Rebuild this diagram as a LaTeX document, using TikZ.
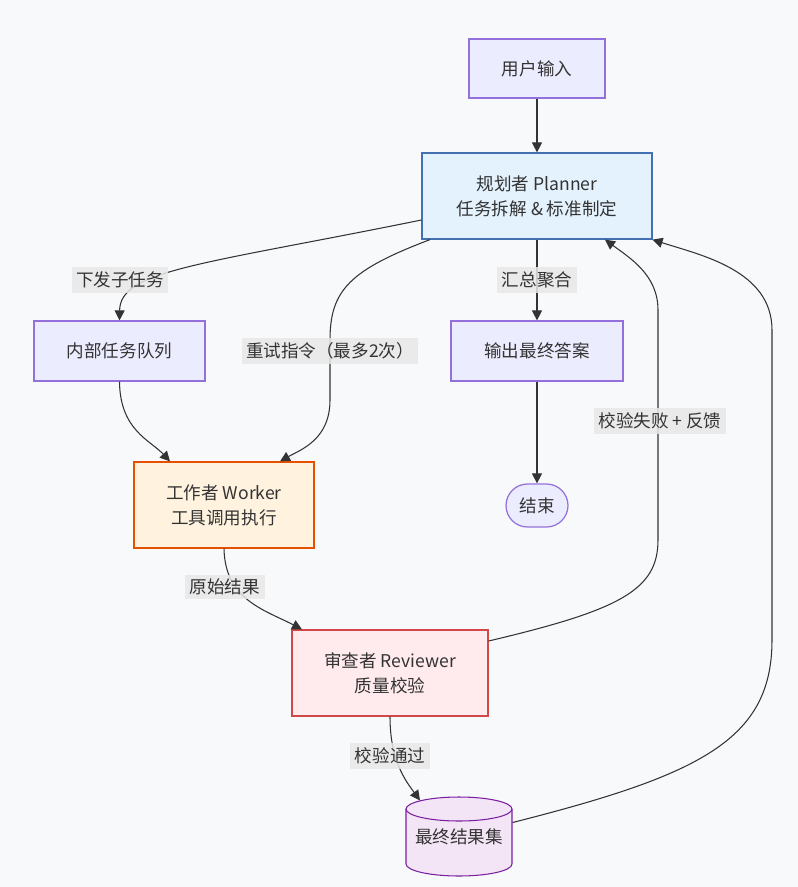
\documentclass[tikz,border=0pt]{standalone}
\usepackage{fontspec}
\setmainfont{Noto Sans CJK SC}
\usetikzlibrary{arrows.meta, positioning, calc}
\definecolor{bgc}{HTML}{F8F9FA}
\definecolor{txt}{HTML}{333333}
\definecolor{edge}{HTML}{333333}
\definecolor{lblfill}{HTML}{E8E8E8}
\definecolor{plainfill}{HTML}{ECECFF}
\definecolor{plainline}{HTML}{9370DB}
\definecolor{plannerfill}{HTML}{E3F2FD}
\definecolor{plannerline}{HTML}{4270B0}
\definecolor{workerfill}{HTML}{FFF3E0}
\definecolor{workerline}{HTML}{E65100}
\definecolor{reviewfill}{HTML}{FFEBEE}
\definecolor{reviewline}{HTML}{D04848}
\definecolor{storefill}{HTML}{F3E5F5}
\definecolor{storeline}{HTML}{7B1FA2}

\begin{document}
\begin{tikzpicture}[
    x=0.02cm, y=-0.02cm,
    box/.style={draw, line width=0.7pt, align=center, text=txt, font=\fontsize{10}{14.2}\selectfont, inner sep=0pt},
    plain/.style={box, fill=plainfill, draw=plainline},
    arrow/.style={-{Triangle[length=0.2cm,width=0.2cm]}, draw=edge, line width=0.6pt},
    lbl/.style={fill=lblfill, fill opacity=0.85, text opacity=1, text=txt, font=\fontsize{10}{12}\selectfont, inner sep=2.5pt}
]
    \fill[bgc] (0,0) rectangle (798,887);
    \useasboundingbox (0,0) rectangle (798,887);

    \node[plain, minimum width=2.72cm, minimum height=1.18cm] (input) at (537,68.5) {用户输入};
    \node[box, fill=plannerfill, draw=plannerline, minimum width=4.6cm, minimum height=1.72cm] (planner) at (537,196) {规划者 Planner\\任务拆解 \& 标准制定};
    \node[plain, minimum width=3.42cm, minimum height=1.2cm] (queue) at (119.5,351) {内部任务队列};
    \node[plain, minimum width=3.44cm, minimum height=1.2cm] (output) at (537,351) {输出最终答案};
    \node[plain, rounded corners=0.43cm, minimum width=1.24cm, minimum height=0.86cm] (finish) at (537,505.5) {结束};
    \node[box, fill=workerfill, draw=workerline, minimum width=3.6cm, minimum height=1.72cm] (worker) at (224,505) {工作者 Worker\\工具调用执行};
    \node[box, fill=reviewfill, draw=reviewline, minimum width=3.92cm, minimum height=1.72cm] (reviewer) at (390,673) {审查者 Reviewer\\质量校验};
    \filldraw[fill=storefill, draw=storeline, line width=0.6pt] (406,809) -- (406,864) arc[start angle=180, end angle=360, x radius=1.06cm, y radius=0.24cm] -- (512,809) arc[start angle=0, end angle=180, x radius=1.06cm, y radius=0.24cm] -- cycle;
    \draw[storeline, line width=0.6pt] (406,809) arc[start angle=180, end angle=360, x radius=1.06cm, y radius=0.24cm];
    \node[box, draw=none, minimum width=2.12cm, minimum height=1.58cm] (store) at (459,836.5) {\raisebox{-0.19cm}{最终结果集}};

    \draw[arrow] (input) -- (planner);
    \draw[arrow] ([yshift=-0.48cm]planner.west) .. controls (200,265) and (120,270) .. (queue.north);
    \draw[arrow] ([xshift=-2.14cm]planner.south) .. controls (350,270) and (330,290) .. (330,340) -- (330,400) .. controls (330,440) and (300,450) .. ([xshift=1.12cm]worker.north);
    \draw[arrow] (planner) -- (output);
    \draw[arrow] (output) -- (finish);
    \draw[arrow] (queue.south) .. controls (120,430) and (150,440) .. ([xshift=-1.08cm]worker.north);
    \draw[arrow] (worker.south) .. controls (225,600) and (265,610) .. ([xshift=-1.76cm]reviewer.north);
    \draw[arrow] ([yshift=0.64cm]reviewer.east) .. controls (620,610) and (658,590) .. (658,540) -- (658,310) .. controls (658,275) and (630,258) .. ([xshift=1.36cm]planner.south);
    \draw[arrow] (reviewer.south) .. controls (390,760) and (405,780) .. ([xshift=-0.78cm,yshift=-0.08cm]store.north);
    \draw[arrow] ([yshift=0.28cm]store.east) .. controls (700,775) and (772,740) .. (772,640) -- (772,330) .. controls (772,270) and (700,255) .. (planner.south east);

    \node[lbl] (dispatch) at (120,280) {下发子任务};
    \node[lbl] (retry) at (330,351) {重试指令（最多2次）};
    \node[lbl] (merge) at (537,280) {汇总聚合};
    \node[lbl] (fail) at (660,421) {校验失败 + 反馈};
    \node[lbl] (raw) at (225,587) {原始结果};
    \node[lbl] (pass) at (390,756) {校验通过};
\end{tikzpicture}
\end{document}
